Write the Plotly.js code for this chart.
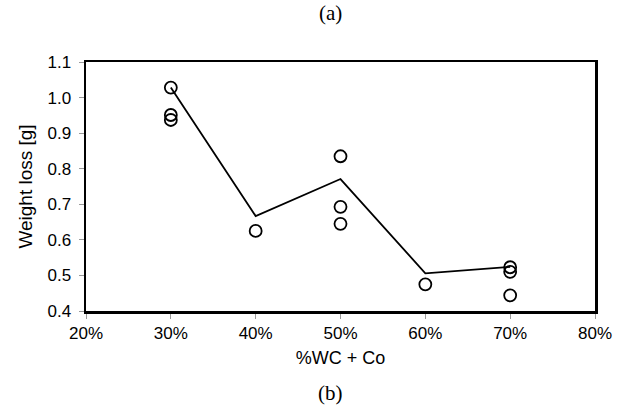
<!DOCTYPE html>
<html>
<head>
<meta charset="utf-8">
<script src="https://cdn.plot.ly/plotly-3.0.1.min.js"></script>
<style>html,body{margin:0;padding:0;background:#fff;}#chart{width:622px;height:415px;}</style>
</head>
<body>
<div id="chart"></div>
<script>
// Individual measurements
var pointX = [0.30, 0.30, 0.30, 0.40, 0.50, 0.50, 0.50, 0.60, 0.70, 0.70, 0.70];
var pointY = [1.028, 0.951, 0.937, 0.625, 0.835, 0.693, 0.645, 0.475, 0.523, 0.510, 0.444];
// Trend line
var lineX = [0.30, 0.40, 0.50, 0.60, 0.70];
var lineY = [1.028, 0.667, 0.771, 0.506, 0.524];
var xTicks = [0.2, 0.3, 0.4, 0.5, 0.6, 0.7, 0.8];
var xTickText = ['20%', '30%', '40%', '50%', '60%', '70%', '80%'];
var yTicks = [0.4, 0.5, 0.6, 0.7, 0.8, 0.9, 1.0, 1.1];

var traces = [
  {x: lineX, y: lineY, mode: 'lines', type: 'scatter',
   line: {color: '#000', width: 1.8}, hoverinfo: 'skip', showlegend: false},
  {x: pointX, y: pointY, mode: 'markers', type: 'scatter',
   marker: {symbol: 'circle-open', size: 12, color: '#000', line: {width: 1.8, color: '#000'}},
   showlegend: false}
];

var layout = {
  width: 622, height: 415,
  margin: {l: 86, r: 27, t: 62, b: 104},
  paper_bgcolor: '#fff', plot_bgcolor: '#fff',
  font: {family: 'Liberation Sans, Arial, sans-serif', size: 17, color: '#000'},
  xaxis: {
    range: [0.2, 0.8], tickvals: xTicks, ticktext: xTickText,
    showgrid: false, zeroline: false, showline: true, mirror: true,
    linecolor: '#000', linewidth: 2.5, ticks: 'outside', ticklen: 5, tickcolor: '#999', tickwidth: 1,
    tickfont: {size: 17},
    title: {text: '%WC + Co', font: {size: 18}, standoff: 10}
  },
  yaxis: {
    range: [0.4, 1.1], tickvals: yTicks, tickformat: '.1f',
    showgrid: false, zeroline: false, showline: true, mirror: true,
    linecolor: '#000', linewidth: 2.5, ticks: 'outside', ticklen: 5, tickcolor: '#999', tickwidth: 1,
    tickfont: {size: 17}, ticklabelstandoff: 4,
    title: {text: 'Weight loss [g]', font: {size: 19}, standoff: 10}
  },
  annotations: [
    {text: '(a)', xref: 'paper', yref: 'paper', x: 0.48, y: 1.195, yanchor: 'middle', showarrow: false,
     font: {family: 'Liberation Serif, Times New Roman, serif', size: 21}},
    {text: '(b)', xref: 'paper', yref: 'paper', x: 0.48, y: -0.33, yanchor: 'middle', showarrow: false,
     font: {family: 'Liberation Serif, Times New Roman, serif', size: 21}}
  ]
};

Plotly.newPlot('chart', traces, layout, {displayModeBar: false, staticPlot: true});
</script>
</body>
</html>
